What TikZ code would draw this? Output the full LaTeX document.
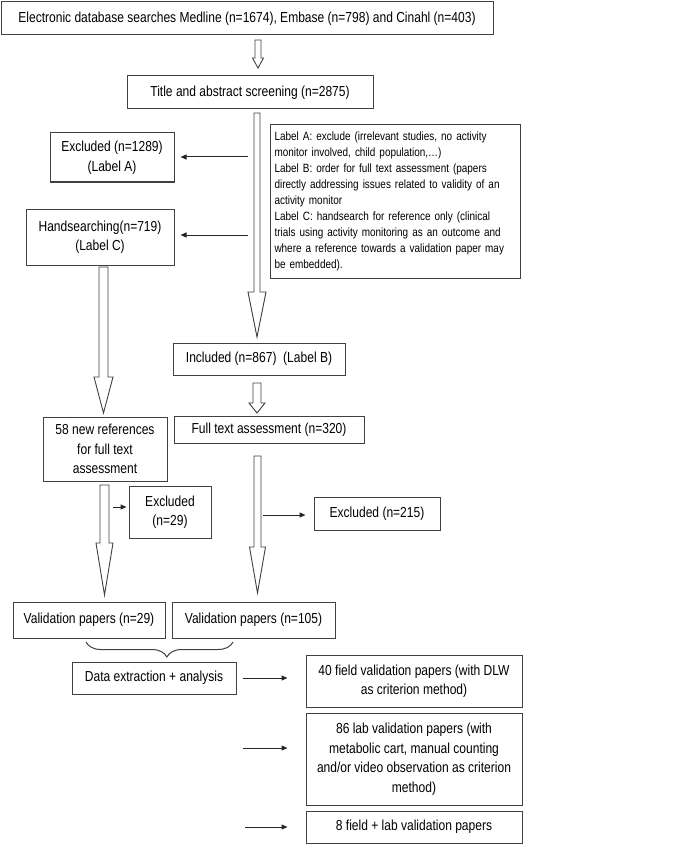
\documentclass[tikz,border=0pt]{standalone}
\usepackage{fontspec}
\setmainfont{Liberation Sans}[FakeStretch=0.83]
\usetikzlibrary{arrows.meta,calc,decorations.pathreplacing}
\tikzset{
  box/.style={draw=black!75, line width=1pt, align=center, inner sep=2pt,
    font=\fontsize{14.5}{19.5}\selectfont},
  fatline/.style={draw=black!75, line width=0.9pt, fill=white},
  thinarrow/.style={draw=black!85, line width=1pt, -{Triangle[length=6pt,width=5pt]}},
}
\newcommand{\fatarrow}[5]{%
  \draw[fatline] let \p1=(#1), \p2=(#2) in
    (\x1-#4pt,\y1) -- (\x1-#4pt,\y2+#3pt) -- (\x1-#5pt,\y2+#3pt) -- (\x2,\y2)
    -- (\x1+#5pt,\y2+#3pt) -- (\x1+#4pt,\y2+#3pt) -- (\x1+#4pt,\y1) -- cycle;}
\begin{document}
\begin{tikzpicture}[x=1pt,y=-1pt]
\useasboundingbox (0,0) rectangle (685,845);
\path
	(247,18.5) node[box, minimum width=492pt, minimum height=33pt] (search) {Electronic database searches Medline (n=1674), Embase (n=798) and Cinahl (n=403)}
	(250,92.5) node[box, minimum width=246pt, minimum height=33pt] (title) {Title and abstract screening (n=2875)}
	(112,157.5) node[box, minimum width=124pt, minimum height=49pt] (excla) {Excluded (n=1289)\\(Label A)}
	(100,237) node[box, minimum width=148pt, minimum height=56pt] (hand) {Handsearching(n=719)\\(Label C)}
	(270,124) node[box, anchor=north west, align=left, inner xsep=4pt, text width=242pt, minimum height=154pt, font=\fontsize{12}{16}\selectfont] (labels) {Label A: exclude (irrelevant studies, no activity\\monitor involved, child population,…)\\Label B: order for full text assessment (papers\\directly addressing issues related to validity of an\\activity monitor\\Label C: handsearch for reference only (clinical\\trials using activity monitoring as an outcome and\\where a reference towards a validation paper may\\be embedded).}
	(259,359) node[box, minimum width=172pt, minimum height=32pt] (incl) {Included (n=867) \ (Label B)}
	(269,429.5) node[box, minimum width=190pt, minimum height=27pt] (full) {Full text assessment (n=320)}
	(105,449) node[box, minimum width=124pt, minimum height=64pt] (newref) {58 new references\\for full text\\assessment}
	(170,512) node[box, minimum width=82pt, minimum height=52pt] (exclb) {Excluded\\(n=29)}
	(377,513.5) node[box, minimum width=126pt, minimum height=33pt] (exclc) {Excluded (n=215)}
	(89,620) node[box, minimum width=152pt, minimum height=36pt] (valA) {Validation papers (n=29)}
	(253.5,620) node[box, minimum width=163pt, minimum height=36pt] (valB) {Validation papers (n=105)}
	(154,678) node[box, minimum width=164pt, minimum height=32pt] (extract) {Data extraction + analysis}
	(414,681) node[box, minimum width=216pt, minimum height=52pt] (field) {40 field validation papers (with DLW\\as criterion method)}
	(414,759) node[box, minimum width=216pt, minimum height=92pt] (lab) {86 lab validation papers (with\\metabolic cart, manual counting\\and/or video observation as criterion\\method)}
	(414,827) node[box, minimum width=216pt, minimum height=32pt] (both) {8 field + lab validation papers};
\coordinate (topA) at (258,40);     \coordinate (tipA) at (258,68);
\coordinate (topB) at (257,113);    \coordinate (tipB) at (257,337);
\coordinate (topC) at (103.5,267);  \coordinate (tipC) at (103.5,413);
\coordinate (topD) at (257,383);    \coordinate (tipD) at (257,413);
\coordinate (topE) at (104.5,485);  \coordinate (tipE) at (104.5,595);
\coordinate (topF) at (257.5,456);  \coordinate (tipF) at (257.5,593);
\fatarrow{topA}{tipA}{10}{3}{5.5}
\fatarrow{topB}{tipB}{45}{3}{9}
\fatarrow{topC}{tipC}{36}{4.5}{9.5}
\fatarrow{topD}{tipD}{10}{4}{8}
\fatarrow{topE}{tipE}{52}{4.5}{8.5}
\fatarrow{topF}{tipF}{46}{3.5}{8}
\draw[thinarrow] (248,157) -- ([xshift=6pt,yshift=0.5pt]excla.east);
\draw[thinarrow] (248,235) -- ([xshift=6pt,yshift=2pt]hand.east);
\draw[thinarrow] (113,507) -- ([xshift=-2pt,yshift=5pt]exclb.west);
\draw[thinarrow] (263,515) -- ([xshift=-8pt,yshift=-1.5pt]exclc.west);
\draw[thinarrow] (243,678) -- ([xshift=-18pt,yshift=3pt]field.west);
\draw[thinarrow] (243,748) -- ([xshift=-18pt,yshift=11pt]lab.west);
\draw[thinarrow] (245,827) -- ([xshift=-18pt]both.west);
\coordinate (braceL) at (86,642);
\coordinate (braceR) at (233,642);
\draw[line width=1pt, draw=black!75, decorate, decoration={brace, mirror, amplitude=15pt, aspect=0.55}] (braceL) -- (braceR);
\end{tikzpicture}
\end{document}
